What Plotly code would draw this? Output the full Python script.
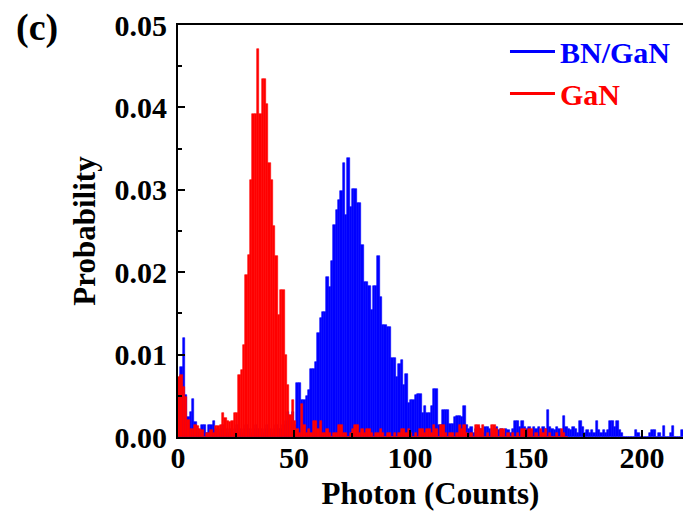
import plotly.graph_objects as go

# Photon count bins (0 .. 217)
counts = list(range(0, 218))

# BN/GaN probability per photon-count bin
bn_gan = [
    0.0050, 0.0085, 0.0120, 0.0051, 0.0024, 0.0030, 0.0046, 0.0018, 0.0010, 0.0005,
    0.0015, 0.0015, 0.0005, 0.0015, 0.0015, 0.0020, 0.0010, 0.0005, 0.0010, 0.0015,
    0.0010, 0.0005, 0.0010, 0.0005, 0.0010, 0.0015, 0.0010, 0.0005, 0.0010, 0.0015,
    0.0010, 0.0005, 0.0010, 0.0015, 0.0010, 0.0010, 0.0005, 0.0010, 0.0015, 0.0010,
    0.0005, 0.0010, 0.0015, 0.0010, 0.0010, 0.0015, 0.0020, 0.0030, 0.0020, 0.0030,
    0.0015, 0.0065, 0.0065, 0.0045, 0.0045, 0.0050, 0.0057, 0.0083, 0.0083, 0.0091,
    0.0126, 0.0144, 0.0152, 0.0152, 0.0194, 0.0182, 0.0213, 0.0257, 0.0275, 0.0288,
    0.0298, 0.0332, 0.0270, 0.0339, 0.0279, 0.0301, 0.0301, 0.0284, 0.0284, 0.0233,
    0.0188, 0.0188, 0.0183, 0.0154, 0.0183, 0.0183, 0.0220, 0.0170, 0.0136, 0.0136,
    0.0134, 0.0134, 0.0096, 0.0096, 0.0073, 0.0089, 0.0093, 0.0063, 0.0077, 0.0041,
    0.0045, 0.0045, 0.0051, 0.0052, 0.0052, 0.0029, 0.0038, 0.0029, 0.0029, 0.0038,
    0.0058, 0.0058, 0.0015, 0.0015, 0.0033, 0.0033, 0.0033, 0.0016, 0.0016, 0.0024,
    0.0026, 0.0026, 0.0024, 0.0038, 0.0015, 0.0010, 0.0012, 0.0005, 0.0010, 0.0012,
    0.0010, 0.0005, 0.0012, 0.0012, 0.0010, 0.0005, 0.0010, 0.0012, 0.0008, 0.0010,
    0.0005, 0.0010, 0.0008, 0.0005, 0.0010, 0.0020, 0.0020, 0.0012, 0.0020, 0.0012,
    0.0010, 0.0012, 0.0008, 0.0012, 0.0010, 0.0012, 0.0005, 0.0012, 0.0010, 0.0033,
    0.0012, 0.0010, 0.0008, 0.0012, 0.0010, 0.0005, 0.0025, 0.0012, 0.0010, 0.0008,
    0.0012, 0.0010, 0.0005, 0.0020, 0.0012, 0.0005, 0.0008, 0.0005, 0.0008, 0.0005,
    0.0020, 0.0008, 0.0005, 0.0008, 0.0005, 0.0008, 0.0020, 0.0020, 0.0012, 0.0020,
    0.0008, 0.0005, 0.0000, 0.0000, 0.0000, 0.0000, 0.0000, 0.0008, 0.0005, 0.0000,
    0.0000, 0.0000, 0.0000, 0.0005, 0.0008, 0.0008, 0.0000, 0.0005, 0.0000, 0.0013,
    0.0000, 0.0000, 0.0005, 0.0013, 0.0000, 0.0000, 0.0000, 0.0008,
]

# GaN probability per photon-count bin (0 .. 167)
gan = [
    0.0073, 0.0075, 0.0061, 0.0049, 0.0021, 0.0010, 0.0010, 0.0015, 0.0013, 0.0010,
    0.0008, 0.0000, 0.0005, 0.0005, 0.0008, 0.0005, 0.0013, 0.0013, 0.0015, 0.0029,
    0.0023, 0.0020, 0.0018, 0.0019, 0.0029, 0.0029, 0.0075, 0.0081, 0.0112, 0.0197,
    0.0221, 0.0312, 0.0392, 0.0392, 0.0471, 0.0392, 0.0434, 0.0434, 0.0404, 0.0332,
    0.0312, 0.0256, 0.0220, 0.0148, 0.0178, 0.0178, 0.0100, 0.0063, 0.0027, 0.0045,
    0.0020, 0.0010, 0.0005, 0.0040, 0.0015, 0.0005, 0.0010, 0.0005, 0.0020, 0.0020,
    0.0010, 0.0020, 0.0005, 0.0005, 0.0010, 0.0005, 0.0000, 0.0005, 0.0005, 0.0015,
    0.0015, 0.0005, 0.0005, 0.0000, 0.0005, 0.0010, 0.0015, 0.0015, 0.0005, 0.0010,
    0.0005, 0.0010, 0.0010, 0.0005, 0.0000, 0.0005, 0.0005, 0.0010, 0.0005, 0.0000,
    0.0005, 0.0005, 0.0000, 0.0005, 0.0000, 0.0005, 0.0010, 0.0010, 0.0005, 0.0010,
    0.0005, 0.0000, 0.0005, 0.0000, 0.0010, 0.0010, 0.0005, 0.0010, 0.0010, 0.0005,
    0.0015, 0.0010, 0.0000, 0.0015, 0.0015, 0.0005, 0.0000, 0.0005, 0.0005, 0.0000,
    0.0005, 0.0015, 0.0010, 0.0015, 0.0005, 0.0000, 0.0005, 0.0000, 0.0015, 0.0015,
    0.0010, 0.0015, 0.0000, 0.0005, 0.0000, 0.0015, 0.0015, 0.0010, 0.0000, 0.0010,
    0.0010, 0.0000, 0.0005, 0.0000, 0.0005, 0.0000, 0.0005, 0.0000, 0.0010, 0.0010,
    0.0000, 0.0010, 0.0010, 0.0000, 0.0005, 0.0000, 0.0010, 0.0005, 0.0010, 0.0000,
    0.0005, 0.0000, 0.0000, 0.0005, 0.0000, 0.0010, 0.0005, 0.0000,
]

series_names = ["BN/GaN", "GaN"]
series_colors = ["#0000ff", "#ff0000"]
x_ticks = [0, 50, 100, 150, 200]
y_ticks = [0.00, 0.01, 0.02, 0.03, 0.04, 0.05]

FONT = "Liberation Serif"

fig = go.Figure()
for vals, col in [(bn_gan, series_colors[0]), (gan, series_colors[1])]:
    fig.add_trace(go.Bar(
        x=counts[:len(vals)], y=vals, width=1, offset=0,
        marker=dict(color=col, line=dict(color=col, width=0.6)),
        showlegend=False,
    ))

for name, col in zip(series_names, series_colors):
    fig.add_trace(go.Scatter(
        x=[None], y=[None], mode="lines",
        line=dict(color=col, width=3),
        name=f'<span style="color:{col}">{name}</span>',
    ))

fig.update_layout(
    template="none",
    width=683, height=516,
    margin=dict(l=178, r=0, t=25, b=79, autoexpand=False),
    paper_bgcolor="white", plot_bgcolor="white",
    barmode="overlay", bargap=0,
    font=dict(family=FONT, color="black"),
    legend=dict(
        x=0.6475, y=0.999, xanchor="left", yanchor="top",
        bgcolor="rgba(0,0,0,0)", borderwidth=0,
        font=dict(family=FONT, size=30, weight="bold"),
        tracegroupgap=0, itemwidth=45,
    ),
    annotations=[dict(
        text="(c)", xref="paper", yref="paper", x=-0.279, y=0.995,
        xanchor="center", yanchor="middle", showarrow=False,
        font=dict(family=FONT, size=38, weight="bold", color="black"),
    )],
)

fig.update_xaxes(
    automargin=False,
    range=[0, 217.7], tickvals=x_ticks,
    showline=True, linecolor="black", linewidth=2, mirror=True,
    ticks="inside", ticklen=7, tickwidth=2, tickcolor="black",
    minor=dict(tickvals=[25, 75, 125, 175], ticks="inside", ticklen=4,
               tickwidth=1.5, tickcolor="black"),
    showgrid=False, zeroline=False, ticklabelstandoff=-7,
    tickfont=dict(family=FONT, size=30, weight="bold", color="black"),
    title=dict(text="Photon (Counts)", standoff=9,
               font=dict(family=FONT, size=31, weight="bold", color="black")),
)
fig.update_yaxes(
    automargin=False,
    range=[0, 0.05], tickvals=y_ticks, tickformat=".2f",
    showline=True, linecolor="black", linewidth=2, mirror=True,
    ticks="inside", ticklen=7, tickwidth=2, tickcolor="black",
    minor=dict(dtick=0.005, ticks="inside", ticklen=4,
               tickwidth=1.5, tickcolor="black"),
    showgrid=False, zeroline=False, ticklabelstandoff=3,
    tickfont=dict(family=FONT, size=30, weight="bold", color="black"),
    title=dict(text="Probability", standoff=10,
               font=dict(family=FONT, size=31, weight="bold", color="black")),
)

fig.write_html(
    "out.html",
    config={"displayModeBar": False},
    post_script="document.body.style.margin='0px';document.body.style.overflow='hidden';",
)
